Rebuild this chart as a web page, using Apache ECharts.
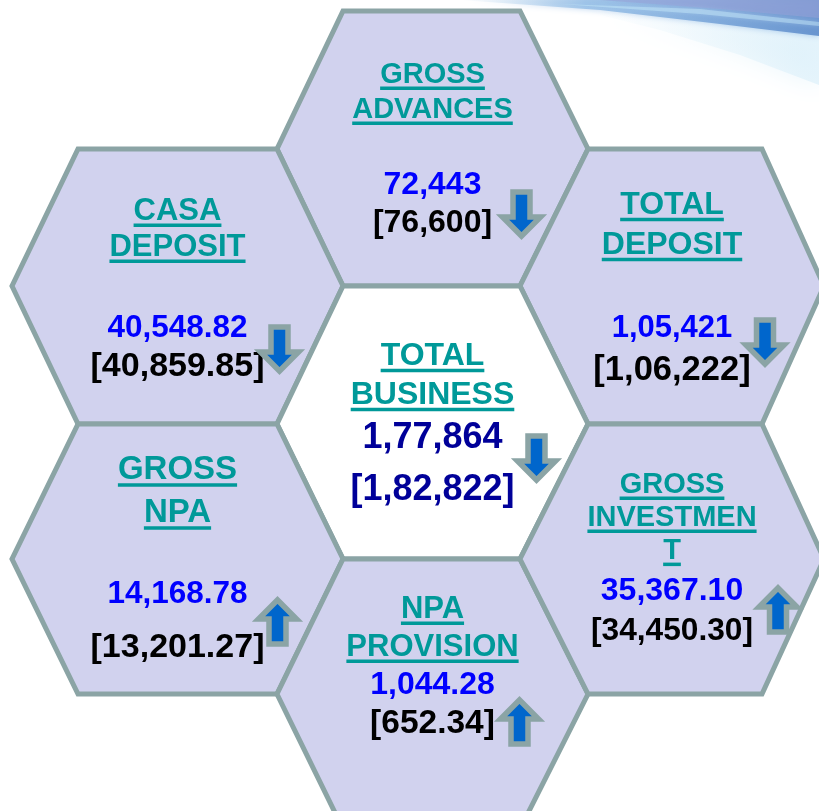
<!DOCTYPE html>
<html>
<head>
<meta charset="utf-8">
<script src="https://cdn.jsdelivr.net/npm/echarts@6/dist/echarts.min.js"></script>
<style>
html,body{margin:0;padding:0;background:#ffffff;}
#chart{width:819px;height:811px;}
</style>
</head>
<body>
<div id="chart"></div>
<script>
// ---------------- DATA ----------------
const categories = ['GROSS\nADVANCES', 'CASA\nDEPOSIT', 'TOTAL\nDEPOSIT', 'TOTAL\nBUSINESS', 'GROSS\nNPA', 'NPA\nPROVISION', 'GROSS\nINVESTMEN\nT'];
const currentValues = [72443, 40548.82, 105421, 177864, 14168.78, 1044.28, 35367.10];
const previousValues = [76600, 40859.85, 106222, 182822, 13201.27, 652.34, 34450.30];
const valueDecimals = [0, 2, 0, 0, 2, 2, 2];

// ---------------- LAYOUT (honeycomb geometry, axis units) ----------------
const colBreaks = [[12, 78, 277, 343], [277, 343, 520, 588], [520, 588, 762, 824]];
const rowLevels = [11, 149, 286, 424, 559, 694, 829];
const hexCell = [
  {col: 1, row: 0}, {col: 0, row: 1}, {col: 2, row: 1}, {col: 1, row: 2},
  {col: 0, row: 3}, {col: 1, row: 4}, {col: 2, row: 3}
];
// text line centres (y), title line gap, font sizes, arrow offset from hex centre
const textLayout = [
  {title: 75,  gap: 35, val: 185, prev: 223, ts: 29, vs: 32,   ps: 32,   ax: 89,  ay: 65},
  {title: 211, gap: 36, val: 328, prev: 367, ts: 31, vs: 31.5, ps: 34,   ax: 102, ay: 63},
  {title: 205, gap: 40, val: 328, prev: 370, ts: 32, vs: 31,   ps: 34.5, ax: 93,  ay: 56},
  {title: 356, gap: 39, val: 438, prev: 490, ts: 32, vs: 36,   ps: 36,   ax: 104, ay: 34},
  {title: 470, gap: 43, val: 594, prev: 648, ts: 33, vs: 31.5, ps: 34,   ax: 100, ay: 63},
  {title: 609, gap: 38, val: 685, prev: 724, ts: 31, vs: 32,   ps: 33.5, ax: 87,  ay: 28},
  {title: 485, gap: 33, val: 591, prev: 631, ts: 29, vs: 32,   ps: 31.7, ax: 106, ay: 51}
];
const centreIndex = 3;

const FONT = '"Liberation Sans", Arial, Helvetica, sans-serif';
const HEX_FILL = '#D1D2EE';
const HEX_LINE = '#8BA4A5';
const TITLE_COLOR = '#009999';

function fmtIN(v, d) {
  const s = v.toFixed(d);
  const parts = s.split('.');
  let intPart = parts[0];
  let last3 = intPart.slice(-3);
  let rest = intPart.slice(0, -3);
  if (rest) last3 = ',' + last3;
  rest = rest.replace(/\B(?=(\d{2})+(?!\d))/g, ',');
  return rest + last3 + (parts[1] ? '.' + parts[1] : '');
}

const measureCtx = document.createElement('canvas').getContext('2d');
function textWidth(txt, size) {
  measureCtx.font = 'bold ' + size + 'px ' + FONT;
  return measureCtx.measureText(txt).width;
}

function arrowPoints(cx, cy, up) {
  const a = 8.5, b = 19, h = 22, hh = 19;
  const s = up ? -1 : 1;
  return [
    [cx - a, cy - s * h], [cx + a, cy - s * h], [cx + a, cy + s * (h - hh)],
    [cx + b, cy + s * (h - hh)], [cx, cy + s * h], [cx - b, cy + s * (h - hh)],
    [cx - a, cy + s * (h - hh)]
  ];
}

const chart = echarts.init(document.getElementById('chart'), null, {renderer: 'canvas'});

const seriesData = categories.map((c, i) => {
  const xs = colBreaks[hexCell[i].col];
  return [(xs[0] + xs[3]) / 2, rowLevels[hexCell[i].row + 1]];
});

function renderItem(params, api) {
  const i = params.dataIndex;
  const cell = hexCell[i];
  const xs = colBreaks[cell.col];
  const y0 = rowLevels[cell.row], y1 = rowLevels[cell.row + 1], y2 = rowLevels[cell.row + 2];
  const pts = [[xs[1], y0], [xs[2], y0], [xs[3], y1], [xs[2], y2], [xs[1], y2], [xs[0], y1]].map(p => api.coord(p));
  const L = textLayout[i];
  const isCentre = i === centreIndex;
  const children = [];
  children.push({
    type: 'polygon', shape: {points: pts}, z2: 0,
    style: {fill: isCentre ? '#ffffff' : HEX_FILL, stroke: HEX_LINE, lineWidth: 5, lineJoin: 'miter'}
  });
  const lines = categories[i].split('\n');
  lines.forEach((ln, k) => {
    const p = api.coord([api.value(0), L.title + k * L.gap]);
    children.push({
      type: 'text', z2: 10,
      style: {text: ln, x: p[0], y: p[1], align: 'center', verticalAlign: 'middle',
        font: 'bold ' + L.ts + 'px ' + FONT, fill: TITLE_COLOR}
    });
    const w = textWidth(ln, L.ts);
    children.push({
      type: 'rect', z2: 10,
      shape: {x: p[0] - w / 2, y: p[1] + L.ts * 0.40, width: w, height: 3.5},
      style: {fill: TITLE_COLOR}
    });
  });
  const cur = currentValues[i], prev = previousValues[i], d = valueDecimals[i];
  const pv = api.coord([api.value(0), L.val]);
  const pp = api.coord([api.value(0), L.prev]);
  children.push({
    type: 'text', z2: 10,
    style: {text: fmtIN(cur, d), x: pv[0], y: pv[1], align: 'center', verticalAlign: 'middle',
      font: 'bold ' + L.vs + 'px ' + FONT, fill: isCentre ? '#000099' : '#0000FF'}
  });
  children.push({
    type: 'text', z2: 10,
    style: {text: '[' + fmtIN(prev, d) + ']', x: pp[0], y: pp[1], align: 'center', verticalAlign: 'middle',
      font: 'bold ' + L.ps + 'px ' + FONT, fill: isCentre ? '#000099' : '#000000'}
  });
  const up = cur > prev;
  const ac = api.coord([api.value(0) + L.ax, api.value(1) + L.ay]);
  children.push({
    type: 'polygon', z2: 12,
    shape: {points: arrowPoints(ac[0], ac[1], up)},
    style: {fill: '#0066CC', stroke: HEX_LINE, lineWidth: 5.5, lineJoin: 'miter', miterLimit: 10}
  });
  return {type: 'group', children: children};
}

chart.setOption({
  animation: false,
  backgroundColor: '#ffffff',
  grid: {left: 0, right: 0, top: 0, bottom: 0},
  xAxis: {type: 'value', min: 0, max: 819, show: false},
  yAxis: {type: 'value', min: 0, max: 811, inverse: true, show: false},
  graphic: [
    {type: 'polygon', z: -10, silent: true,
      shape: {points: [[580, 10], [819, 30], [819, 85], [740, 55], [660, 30]]},
      style: {fill: new echarts.graphic.LinearGradient(0, 0, 1, 0, [
        {offset: 0, color: 'rgba(225,242,250,0)'}, {offset: 1, color: 'rgba(220,240,250,0.7)'}]),
        shadowBlur: 24, shadowColor: 'rgba(215,238,250,0.8)'}},
    {type: 'polygon', z: -9, silent: true,
      shape: {points: [[460, 0], [819, 0], [819, 36], [720, 24], [600, 10]]},
      style: {fill: new echarts.graphic.LinearGradient(0, 0, 1, 0, [
        {offset: 0, color: 'rgba(170,205,235,0)'}, {offset: 0.35, color: 'rgba(140,185,228,0.75)'},
        {offset: 1, color: 'rgba(100,145,205,0.95)'}]), shadowBlur: 6, shadowColor: 'rgba(130,175,225,0.7)'}},
    {type: 'polygon', z: -8, silent: true,
      shape: {points: [[600, 0], [819, 0], [819, 18], [720, 9]]},
      style: {fill: 'rgba(150,160,215,0.55)', shadowBlur: 6, shadowColor: 'rgba(150,160,215,0.5)'}},
    {type: 'polygon', z: -7, silent: true,
      shape: {points: [[560, 4], [700, 9], [819, 22], [819, 26], [700, 14]]},
      style: {fill: 'rgba(200,235,250,0.45)', shadowBlur: 5, shadowColor: 'rgba(220,245,255,0.6)'}}
  ],
  series: [{
    type: 'custom',
    coordinateSystem: 'cartesian2d',
    renderItem: renderItem,
    data: seriesData,
    clip: false,
    silent: true
  }]
});
</script>
</body>
</html>
